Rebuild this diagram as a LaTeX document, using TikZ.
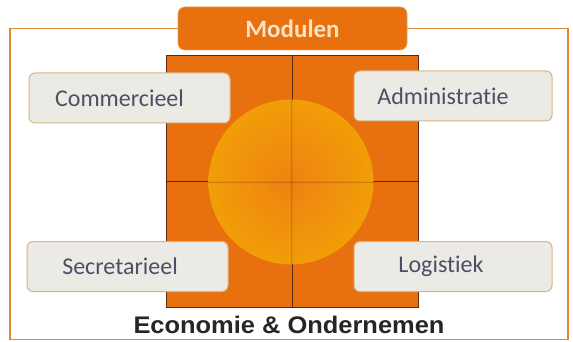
\documentclass[tikz,border=0pt]{standalone}
\usepackage{fontspec}
\setmainfont[Ligatures=NoCommon]{Carlito}
\newfontfamily\arialfont{Liberation Sans}
\definecolor{frameor}{HTML}{E0883A}
\definecolor{sqor}{HTML}{E8700E}
\definecolor{divc}{HTML}{5A2A12}
\definecolor{boxfill}{HTML}{ECEAE4}
\definecolor{boxline}{HTML}{D8B48A}
\definecolor{boxtext}{HTML}{4A5066}
\definecolor{modtext}{HTML}{FCE2C4}
\definecolor{circin}{HTML}{EE8412}
\definecolor{circout}{HTML}{F3A308}
\begin{document}
\begin{tikzpicture}[x=1pt,y=-1pt,
  modbox/.style={draw=boxline,line width=1pt,fill=boxfill,rounded corners=6pt,
    minimum width=200pt,minimum height=50pt,inner sep=0pt,text=boxtext,
    font=\fontsize{24}{28}\selectfont},
  divline/.style={draw=divc,line width=0.9pt}]
\useasboundingbox (0,0) rectangle (573,342);
\fill[white] (0,0) rectangle (573,342);
% outer frame
\node[draw=frameor,line width=1.8pt,minimum width=558pt,minimum height=311pt,inner sep=0pt]
  (frame) at (289,184) {};
% central square
\node[fill=sqor,draw=divc,line width=0.8pt,minimum width=252pt,minimum height=252pt,inner sep=0pt]
  (sq) at (292,181) {};
\draw[divline] (sq.north) -- (sq.south);
\draw[divline] (sq.west) -- (sq.east);
% circle
\node[circle,minimum size=165pt,inner sep=0pt,inner color=circin,outer color=circout,
  fill opacity=0.9] (circ) at (291,182) {};
\draw[divline,opacity=0.25] (circ.north) -- (circ.south);
\draw[divline,opacity=0.25] (circ.west) -- (circ.east);
% title
\node[fill=sqor,draw=frameor!80!white,line width=0.8pt,rounded corners=7pt,
  minimum width=229pt,minimum height=43pt,inner sep=0pt,text=modtext,
  font=\bfseries\fontsize{25}{30}\selectfont] (mod) at (292.5,28.5) {Modulen};
% modules
\node[modbox,minimum width=201pt] (com) at (129.5,98) {\hspace*{-20pt}Commercieel};
\node[modbox,minimum width=198pt] (adm) at (453,96) {\hspace*{-20pt}Administratie};
\node[modbox,minimum width=201pt] (sec) at (127.5,266.5) {\hspace*{-15pt}Secretarieel};
\node[modbox,minimum width=198pt] (log) at (453,266.5) {\hspace*{-24pt}Logistiek};
% caption
\node[font=\arialfont\bfseries\fontsize{24}{28}\selectfont,text=black!85,inner sep=0pt]
  (cap) at (289,325) {\scalebox{1.06}[1]{Economie \& Ondernemen}};
\end{tikzpicture}
\end{document}
